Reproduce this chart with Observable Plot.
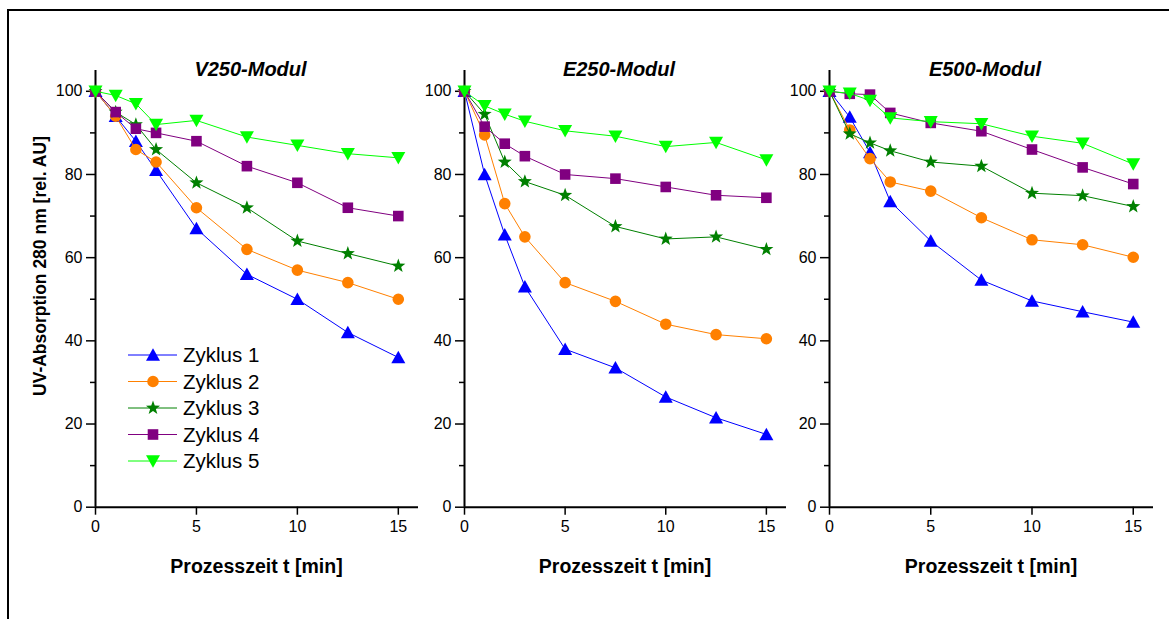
<!DOCTYPE html>
<html><head><meta charset="utf-8">
<script src="https://cdn.jsdelivr.net/npm/d3@7"></script>
<script src="https://cdn.jsdelivr.net/npm/@observablehq/plot@0.6"></script>
<style>
body{margin:0;background:#fff;}
#wrap{position:relative;width:1169px;height:619px;overflow:hidden;font-family:"Liberation Sans",Arial,sans-serif;color:#000;background:#fff;}
#frame{position:absolute;left:7px;top:9px;width:1300px;height:800px;border-left:2px solid #000;border-top:2px solid #000;}
.pl{position:absolute;left:0;top:0;}
.t{position:absolute;white-space:nowrap;transform:translate(-50%,-50%);}
.title{font-weight:bold;font-style:italic;font-size:20px;}
.xl{font-weight:bold;font-size:19.5px;}
.yl{font-weight:bold;font-size:17.5px;transform:translate(-50%,-50%) rotate(-90deg);}
#legend{position:absolute;left:0;top:0;}
</style></head><body><div id="wrap"><div id="frame"></div></div>
<script>
const times = [0, 1, 2, 3, 5, 7.5, 10, 12.5, 15];
const modules = ["V250-Modul", "E250-Modul", "E500-Modul"];
const cycles = ["Zyklus 1", "Zyklus 2", "Zyklus 3", "Zyklus 4", "Zyklus 5"];
const colors = ["#0000ff", "#ff8000", "#008000", "#800080", "#00ff00"];
const yTicksMajor = [0, 20, 40, 60, 80, 100];
const yTicksMinor = [10, 30, 50, 70, 90];
const xTicks = [0, 5, 10, 15];

const v250_z1 = [100, 94, 88, 81, 67, 56, 50, 42, 36];
const v250_z2 = [100, 94, 86, 83, 72, 62, 57, 54, 50];
const v250_z3 = [100, 95, 92, 86, 78, 72, 64, 61, 58];
const v250_z4 = [100, 95, 91, 90, 88, 82, 78, 72, 70];
const v250_z5 = [100, 99, 97, 92, 93, 89, 87, 85, 84];

const e250_z1 = [100, 80, 65.5, 53, 38, 33.5, 26.5, 21.5, 17.5];
const e250_z2 = [100, 89.5, 73, 65, 54, 49.5, 44, 41.5, 40.5];
const e250_z3 = [100, 94.5, 83, 78.3, 75, 67.5, 64.5, 65, 62];
const e250_z4 = [100, 91.5, 87.4, 84.4, 80, 79, 77, 75, 74.4];
const e250_z5 = [100, 96.5, 94.5, 92.8, 90.5, 89.2, 86.7, 87.7, 83.5];

const e500_z1 = [100, 93.8, 85.3, 73.5, 64, 54.6, 49.6, 47, 44.5];
const e500_z2 = [100, 90.7, 83.8, 78.2, 76, 69.6, 64.3, 63.1, 60.1];
const e500_z3 = [100, 89.8, 87.6, 85.7, 83, 82, 75.5, 74.9, 72.3];
const e500_z4 = [100, 99.4, 99.2, 94.8, 92.4, 90.4, 86, 81.7, 77.7];
const e500_z5 = [100, 99.5, 97.8, 93.6, 92.7, 92.2, 89.2, 87.5, 82.5];

const panelSeries = [
  [v250_z1, v250_z2, v250_z3, v250_z4, v250_z5],
  [e250_z1, e250_z2, e250_z3, e250_z4, e250_z5],
  [e500_z1, e500_z2, e500_z3, e500_z4, e500_z5]
];

// custom marker shapes (pixel sized)
const triUp = {draw(c){const w=14,h=12.5;c.moveTo(0,-h/2-0.5);c.lineTo(w/2,h/2-0.5);c.lineTo(-w/2,h/2-0.5);c.closePath();}};
const triDown = {draw(c){const w=14,h=12.5;c.moveTo(0,h/2+0.5);c.lineTo(w/2,-h/2+0.5);c.lineTo(-w/2,-h/2+0.5);c.closePath();}};
const circ = {draw(c){const r=5.8;c.moveTo(r,0);c.arc(0,0,r,0,2*Math.PI);c.closePath();}};
const sq = {draw(c){const s=5.3;c.moveTo(-s,-s);c.lineTo(s,-s);c.lineTo(s,s);c.lineTo(-s,s);c.closePath();}};
const star = {draw(c){const R=7.4,r=3;for(let i=0;i<10;i++){const a=-Math.PI/2+i*Math.PI/5;const rr=i%2?r:R;const x=rr*Math.cos(a),y=rr*Math.sin(a);if(i===0)c.moveTo(x,y);else c.lineTo(x,y);}c.closePath();}};
const symbols = [triUp, circ, star, sq, triDown];

const W = 1169, H = 619;
const panels = [
  {x0: 95, x1: 418},
  {x0: 464, x1: 786},
  {x0: 829, x1: 1153}
];
const yTop = 70, yBottom = 506.7;
const wrap = document.getElementById("wrap");

panels.forEach((p, pi) => {
  const marks = [
    Plot.axisY({ticks: yTicksMinor, tickSize: 5, tickFormat: () => "", label: null, strokeWidth: 1.5}),
    Plot.axisY({ticks: yTicksMajor, tickSize: 9, tickPadding: 4, label: null, strokeWidth: 1.5, fontSize: 16}),
    Plot.axisX({ticks: xTicks, tickSize: 8, tickPadding: 5, label: null, strokeWidth: 1.5, fontSize: 16}),
    Plot.ruleX([0], {y1: 0, y2: 105, stroke: "#000", strokeWidth: 2}),
    Plot.ruleY([0], {x1: 0, x2: 16, stroke: "#000", strokeWidth: 2})
  ];
  panelSeries[pi].forEach((vals, ci) => {
    const data = times.map((t, i) => ({t, v: vals[i]}));
    marks.push(Plot.line(data, {x: "t", y: "v", stroke: colors[ci], strokeWidth: 1}));
    marks.push(Plot.dot(data, {x: "t", y: "v", symbol: symbols[ci], fill: colors[ci], stroke: "none", r: 5}));
  });
  const chart = Plot.plot({
    width: W, height: H,
    marginLeft: p.x0, marginRight: W - p.x1, marginTop: yTop, marginBottom: H - yBottom,
    x: {domain: [0, 16], axis: null},
    y: {domain: [0, 105], axis: null},
    style: {background: "transparent", fontFamily: "'Liberation Sans', Arial, sans-serif", fontSize: "16px", color: "#000", overflow: "visible"},
    marks
  });
  chart.classList.add("pl");
  chart.style.position = "absolute";
  chart.style.left = "0px";
  chart.style.top = "0px";
  wrap.appendChild(chart);

  const title = document.createElement("div");
  title.className = "t title";
  title.textContent = modules[pi];
  title.style.left = ((p.x0 + p.x1) / 2 - 6) + "px";
  title.style.top = "69px";
  wrap.appendChild(title);

  const xl = document.createElement("div");
  xl.className = "t xl";
  xl.textContent = "Prozesszeit t [min]";
  xl.style.left = ((p.x0 + p.x1) / 2) + "px";
  xl.style.top = "566px";
  wrap.appendChild(xl);
});

const yl = document.createElement("div");
yl.className = "t yl";
yl.textContent = "UV-Absorption 280 nm [rel. AU]";
yl.style.left = "40px";
yl.style.top = "266px";
wrap.appendChild(yl);

// legend
const lg = d3.select(wrap).append("svg").attr("id", "legend").attr("width", W).attr("height", H)
  .style("position", "absolute").style("left", 0).style("top", 0);
const rowY = [355, 381.5, 408, 434.5, 461];
cycles.forEach((name, i) => {
  const g = lg.append("g").attr("transform", `translate(0,${rowY[i]})`);
  g.append("line").attr("x1", 128).attr("x2", 177).attr("y1", 0).attr("y2", 0).attr("stroke", colors[i]).attr("stroke-width", 1);
  const path = d3.path();
  symbols[i].draw(path, 0);
  g.append("path").attr("d", path.toString()).attr("transform", "translate(153,0)").attr("fill", colors[i]);
  g.append("text").attr("x", 183).attr("y", 0).attr("dy", "0.36em").attr("font-size", 20.5)
    .attr("font-family", "'Liberation Sans', Arial, sans-serif").text(name);
});
</script>
</body></html>
